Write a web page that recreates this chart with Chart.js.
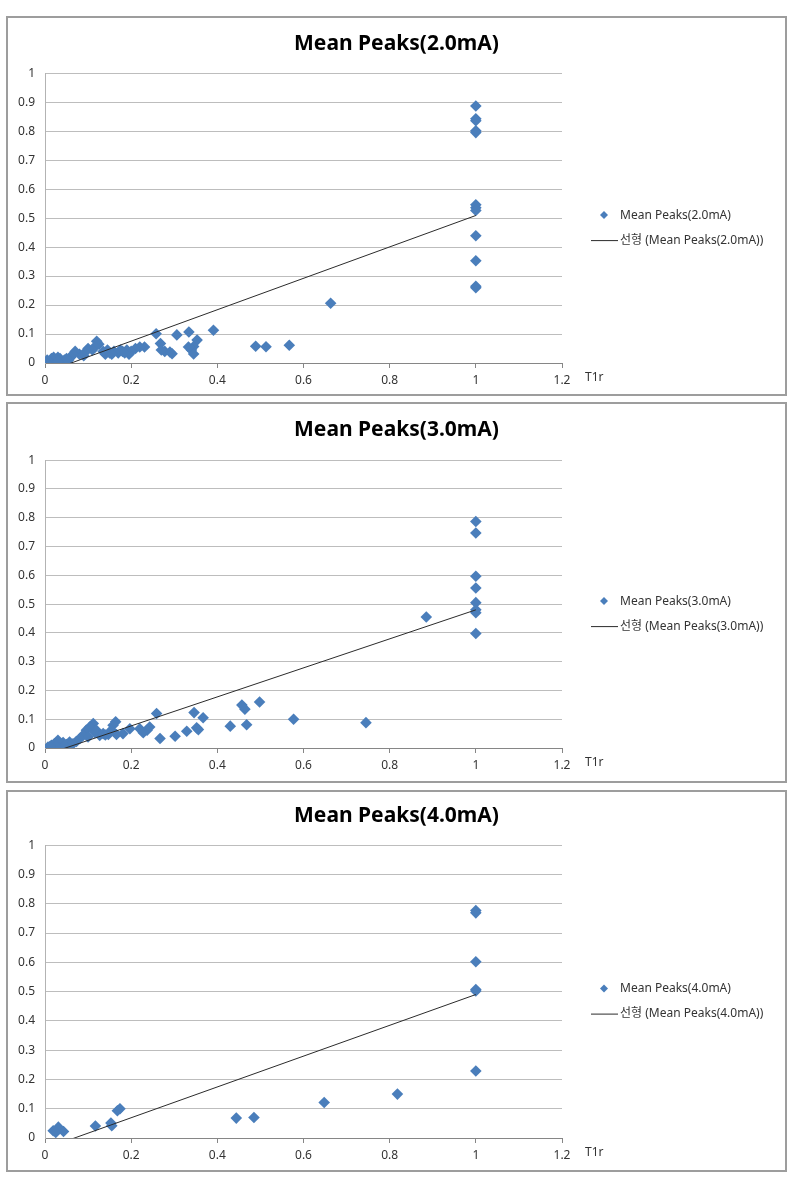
<!DOCTYPE html>
<html>
<head>
<meta charset="utf-8">
<script src="https://cdn.jsdelivr.net/npm/chart.js@4.4.1/dist/chart.umd.min.js"></script>
<style>
  body { margin: 0; background: #fff; width: 796px; height: 1182px; position: relative; overflow: hidden; }
  .panel { position: absolute; left: 6px; width: 777px; border: 2px solid #9d9d9d; background: #fff; }
  .panel canvas { display: block; }
</style>
</head>
<body>
<div class="panel" style="top:16px;height:376px"><canvas id="c1" width="777" height="376"></canvas></div>
<div class="panel" style="top:402px;height:377px"><canvas id="c2" width="777" height="377"></canvas></div>
<div class="panel" style="top:790px;height:378px"><canvas id="c3" width="777" height="378"></canvas></div>
<script>
// axis ticks
const xTicks = [0, 0.2, 0.4, 0.6, 0.8, 1, 1.2];
const yTicks = [0, 0.1, 0.2, 0.3, 0.4, 0.5, 0.6, 0.7, 0.8, 0.9, 1];

// Mean Peaks(2.0mA)
const t1r2mA = [1, 1, 1, 1, 1, 1, 1, 1, 1, 1, 1, 1, 0.663, 0.391, 0.567, 0.513, 0.489, 0.258, 0.306, 0.334,
  0.353, 0.345, 0.34, 0.345, 0.333, 0.268, 0.278, 0.29, 0.295, 0.27, 0.231, 0.22, 0.21, 0.2, 0.195, 0.19,
  0.18, 0.17, 0.16, 0.15, 0.14, 0.135, 0.125, 0.12, 0.115, 0.11, 0.1, 0.095, 0.09, 0.08, 0.07, 0.065, 0.06,
  0.055, 0.045, 0.035, 0.03, 0.025, 0.02, 0.015, 0.01, 0.005, 0.002, 0.03, 0.05, 0.145, 0.155, 0.175, 0.185];
const peaks2mA = [0.887, 0.843, 0.836, 0.801, 0.795, 0.546, 0.536, 0.526, 0.439, 0.353, 0.265, 0.26, 0.206, 0.113,
  0.061, 0.056, 0.058, 0.101, 0.097, 0.107, 0.079, 0.057, 0.045, 0.031, 0.055, 0.067, 0.04, 0.038, 0.032, 0.045,
  0.055, 0.055, 0.05, 0.04, 0.03, 0.045, 0.04, 0.035, 0.04, 0.035, 0.03, 0.04, 0.065, 0.075, 0.055, 0.045, 0.05,
  0.04, 0.025, 0.03, 0.04, 0.03, 0.02, 0.01, 0.01, 0.015, 0.02, 0.01, 0.02, 0.015, 0.005, 0.01, 0.003, 0.005,
  0.015, 0.045, 0.03, 0.045, 0.035];
const trendX2mA = [0, 1];
const trendY2mA = [-0.033, 0.509];

// Mean Peaks(3.0mA)
const t1r3mA = [1, 1, 1, 1, 1, 1, 1, 1, 0.885, 0.745, 0.577, 0.498, 0.468, 0.464, 0.457, 0.43, 0.367, 0.352,
  0.346, 0.356, 0.329, 0.302, 0.267, 0.259, 0.243, 0.237, 0.228, 0.22, 0.197, 0.181, 0.166, 0.164, 0.158, 0.154,
  0.147, 0.112, 0.104, 0.096, 0.088, 0.081, 0.073, 0.065, 0.057, 0.05, 0.042, 0.034, 0.03, 0.022, 0.015, 0.007,
  0.119, 0.127, 0.116, 0.1, 0.06, 0.045, 0.025, 0.012, 0.135, 0.14];
const peaks3mA = [0.787, 0.747, 0.597, 0.556, 0.505, 0.48, 0.47, 0.398, 0.455, 0.088, 0.1, 0.16, 0.081, 0.135,
  0.149, 0.076, 0.105, 0.07, 0.123, 0.064, 0.058, 0.041, 0.033, 0.12, 0.073, 0.062, 0.053, 0.067, 0.067, 0.05,
  0.047, 0.091, 0.079, 0.062, 0.047, 0.085, 0.073, 0.062, 0.044, 0.033, 0.023, 0.015, 0.021, 0.012, 0.019, 0.012,
  0.027, 0.015, 0.009, 0.003, 0.062, 0.044, 0.053, 0.038, 0.01, 0.008, 0.005, 0.006, 0.05, 0.045];
const trendX3mA = [0, 1];
const trendY3mA = [-0.024, 0.48];

// Mean Peaks(4.0mA)
const t1r4mA = [1, 1, 1, 1, 1, 1, 0.818, 0.648, 0.485, 0.444, 0.174, 0.168, 0.153, 0.155, 0.117, 0.031, 0.019,
  0.043, 0.025];
const peaks4mA = [0.777, 0.769, 0.602, 0.507, 0.502, 0.229, 0.15, 0.121, 0.07, 0.068, 0.1, 0.093, 0.051, 0.042,
  0.041, 0.037, 0.025, 0.022, 0.019];
const trendX4mA = [0, 1];
const trendY4mA = [-0.036, 0.49];

const FONT = '"Noto Sans", "Noto Sans CJK KR", sans-serif';

// legend on the right and the "T1r" axis name, drawn after the chart
const sideText = {
  id: 'sideText',
  afterDraw(chart) {
    const { ctx, chartArea } = chart;
    const sets = chart.data.datasets;
    const cy = (chartArea.top + chartArea.bottom) / 2;
    const x0 = chartArea.right;
    ctx.save();
    ctx.font = '12px ' + FONT;
    ctx.textBaseline = 'middle';
    ctx.textAlign = 'left';
    ctx.fillStyle = '#333';

    const y1 = cy - 3;
    ctx.beginPath();
    ctx.moveTo(x0 + 38, y1);
    ctx.lineTo(x0 + 42, y1 - 4);
    ctx.lineTo(x0 + 46, y1);
    ctx.lineTo(x0 + 42, y1 + 4);
    ctx.closePath();
    ctx.fillStyle = sets[0].backgroundColor;
    ctx.fill();
    ctx.fillStyle = '#333';
    ctx.fillText(sets[0].label, x0 + 58, y1);

    const y2 = cy + 22;
    ctx.beginPath();
    ctx.moveTo(x0 + 29, y2 + 0.5);
    ctx.lineTo(x0 + 56, y2 + 0.5);
    ctx.strokeStyle = sets[1].borderColor;
    ctx.lineWidth = 1;
    ctx.stroke();
    ctx.fillText(sets[1].label, x0 + 58, y2);

    ctx.fillText('T1r', x0 + 23, chartArea.bottom + 15);
    ctx.restore();
  }
};

const fmt = v => String(+Number(v).toFixed(1));

function makeChart(id, title, xs, ys, trendX, trendY, box) {
  const points = xs.map((x, i) => ({ x: x, y: ys[i] }));
  const trend = trendX.map((x, i) => ({ x: x, y: trendY[i] }));
  return new Chart(document.getElementById(id), {
    type: 'scatter',
    data: {
      datasets: [{
        label: title,
        data: points,
        pointStyle: 'rectRot',
        pointRadius: 5.8,
        backgroundColor: '#4a7ebb',
        borderColor: '#4a7ebb',
        borderWidth: 0,
        order: 1
      }, {
        label: '선형 (' + title + ')',
        data: trend,
        showLine: true,
        pointRadius: 0,
        borderColor: '#2b2b2b',
        borderWidth: 1,
        order: 0
      }]
    },
    options: {
      responsive: false,
      animation: false,
      events: [],
      layout: { padding: 0 },
      plugins: {
        legend: { display: false },
        tooltip: { enabled: false },
        title: {
          display: true,
          text: title,
          color: '#000',
          font: { family: FONT, size: 21, weight: 'bold', lineHeight: 1.2 },
          padding: { top: box.titleTop, bottom: box.titleBottom }
        }
      },
      scales: {
        x: {
          type: 'linear',
          min: 0,
          max: 1.2,
          afterBuildTicks: s => { s.ticks = xTicks.map(v => ({ value: v })); },
          afterFit: s => { s.height = box.xHeight; },
          grid: { drawOnChartArea: false, drawTicks: true, tickLength: 5, tickColor: '#868686' },
          border: { display: true, color: '#868686', width: 1 },
          ticks: { color: '#333', padding: 5, font: { family: FONT, size: 12 }, callback: fmt }
        },
        y: {
          type: 'linear',
          min: 0,
          max: 1,
          afterBuildTicks: s => { s.ticks = yTicks.map(v => ({ value: v })); },
          afterFit: s => { s.width = 37; },
          grid: {
            drawTicks: false,
            color: c => (c.tick && c.tick.value === 0 ? 'rgba(0,0,0,0)' : '#bdbdbd'),
            lineWidth: 1
          },
          border: { display: true, color: '#b3b3b3', width: 1 },
          ticks: { color: '#333', padding: 10, font: { family: FONT, size: 12 }, callback: fmt }
        },
        side: {
          type: 'linear',
          position: 'right',
          afterFit: s => { s.width = 223; },
          grid: { display: false },
          border: { display: false },
          ticks: { display: false }
        }
      }
    },
    plugins: [sideText]
  });
}

makeChart('c1', 'Mean Peaks(2.0mA)', t1r2mA, peaks2mA, trendX2mA, trendY2mA,
  { titleTop: 13, titleBottom: 17, xHeight: 31 });
makeChart('c2', 'Mean Peaks(3.0mA)', t1r3mA, peaks3mA, trendX3mA, trendY3mA,
  { titleTop: 13, titleBottom: 18, xHeight: 33 });
makeChart('c3', 'Mean Peaks(4.0mA)', t1r4mA, peaks4mA, trendX4mA, trendY4mA,
  { titleTop: 11, titleBottom: 17, xHeight: 32 });
</script>
</body>
</html>
